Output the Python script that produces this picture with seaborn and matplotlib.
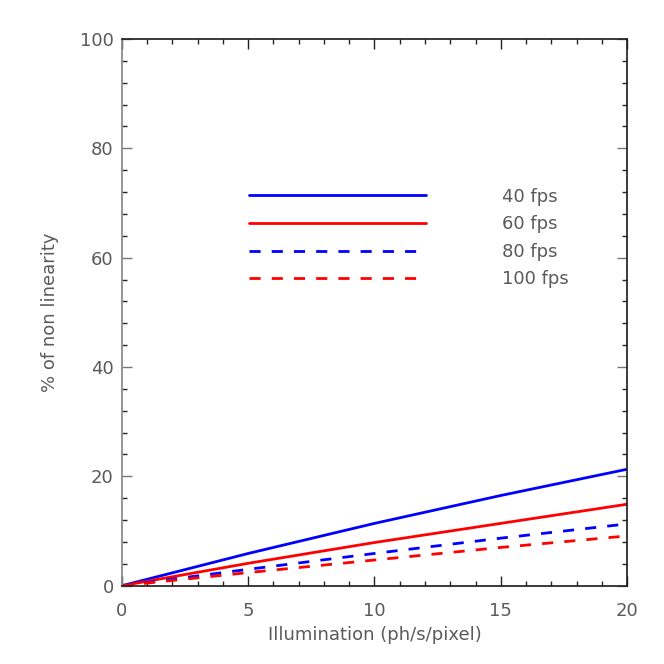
import pandas as pd
import seaborn as sns
from matplotlib import pyplot as plt
from matplotlib.ticker import MultipleLocator

# values
illumination = [0, 5, 10, 15, 20]
fps_40 = [0, 5.9, 11.4, 16.5, 21.3]
fps_60 = [0, 4.1, 7.9, 11.4, 14.9]
fps_80 = [0, 3.0, 5.9, 8.7, 11.3]
fps_100 = [0, 2.4, 4.7, 7.0, 9.1]
rates = ["40 fps", "60 fps", "80 fps", "100 fps"]

df = pd.DataFrame({
    "Illumination": illumination * 4,
    "Nonlinearity": fps_40 + fps_60 + fps_80 + fps_100,
    "Rate": [r for r in rates for _ in illumination],
})

sns.set_theme(style="ticks")
plt.rcParams["font.family"] = ["DejaVu Sans"]
text_color = "#5a5a5a"

fig = plt.figure(figsize=(6.64, 6.64), dpi=100)
ax = fig.add_axes([0.1837, 0.1179, 0.7606, 0.8234])

palette = {"40 fps": "#0000ff", "60 fps": "#ff0000", "80 fps": "#0000ff", "100 fps": "#ff0000"}
dashes = {"40 fps": "", "60 fps": "", "80 fps": (4, 4), "100 fps": (4, 4)}
sns.lineplot(data=df, x="Illumination", y="Nonlinearity", hue="Rate", style="Rate",
             hue_order=rates, style_order=rates, palette=palette, dashes=dashes,
             linewidth=2, ax=ax)

ax.set_xlim(0, 20)
ax.set_ylim(0, 100)
ax.xaxis.set_major_locator(MultipleLocator(5))
ax.xaxis.set_minor_locator(MultipleLocator(1))
ax.yaxis.set_major_locator(MultipleLocator(20))
ax.yaxis.set_minor_locator(MultipleLocator(4))
ax.tick_params(which="both", direction="in", top=True, right=True,
               labelsize=13, labelcolor=text_color, width=1)
ax.tick_params(which="major", length=7.5)
ax.tick_params(which="minor", length=3.6)
ax.tick_params(axis="x", pad=12, color="#222222")
ax.tick_params(axis="y", pad=6, color="#777777")

for side in ["top", "right", "bottom"]:
    ax.spines[side].set_color("#222222")
ax.spines["left"].set_color("#888888")

ax.set_xlabel("Illumination (ph/s/pixel)", fontsize=13, color=text_color, labelpad=4)
ax.set_ylabel("% of non linearity", fontsize=13, color=text_color, labelpad=15)

sns.move_legend(ax, loc="upper left", bbox_to_anchor=(0.2515, 0.728), frameon=False,
                title=None, fontsize=13, handlelength=9.8, handletextpad=4.2,
                labelspacing=0.53, borderpad=0, borderaxespad=0)
for t in ax.get_legend().get_texts():
    t.set_color(text_color)

fig.savefig("out.png", dpi=100)
